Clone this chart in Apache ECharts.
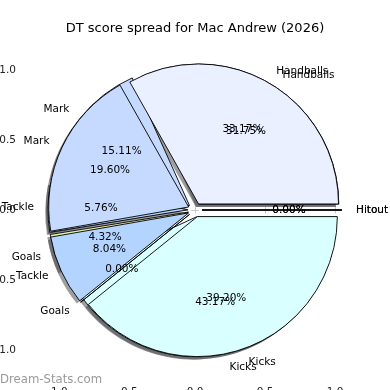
<!DOCTYPE html>
<html><head><meta charset="utf-8">
<script src="https://cdn.jsdelivr.net/npm/echarts@6/dist/echarts.min.js"></script>
<style>html,body{margin:0;padding:0;background:#fff}#c{width:390px;height:390px}</style>
</head><body><div id="c"></div>
<script>
// Data (percentages of DT score), two overlapping pies as in the reference
const categories = ['Hitout', 'Handballs', 'Mark', 'Tackle', 'Goals', 'Kicks'];
const valuesA = [0, 33.17, 19.60, 8.04, 0, 39.20];
const valuesB = [0, 31.75, 15.11, 5.76, 4.32, 43.17];
const sliceColors = ['#F0E4FF', '#EAF0FF', '#C6D9FF', '#B3D4FF', '#E4F0A8', '#D9FFFF'];
const tickValues = [-1, -0.5, 0, 0.5, 1];
const titleText = 'DT score spread for Mac Andrew (2026)';
const watermark = 'Dream-Stats.com';

const FONT = 'DejaVu Sans';
const CX = 195, CY = 210, R = 140, EXPLODE = 7;

function items(vals, colorFn) {
  return categories.map((n, i) => ({
    name: n, value: vals[i], selected: true,
    itemStyle: { color: colorFn(i) }
  }));
}
function fmtTick(v) {
  const s = Math.abs(v).toFixed(1);
  return v < 0 ? '\u2212' + s : s;
}

const basePie = {
  type: 'pie', startAngle: 0, clockwise: false, selectedMode: 'multiple',
  selectedOffset: EXPLODE, avoidLabelOverlap: false, animation: false,
  emphasis: { disabled: true }, minAngle: 0, stillShowZeroSum: true,
  labelLine: { show: false }, labelLayout: { hideOverlap: false }
};

function visualSeries(vals, z) {
  return Object.assign({}, basePie, {
    center: [CX, CY], radius: [0, R], z: z,
    data: items(vals, i => sliceColors[i]),
    itemStyle: { borderColor: '#000', borderWidth: 0.9 },
    select: { itemStyle: { borderColor: '#000', borderWidth: 0.9 } },
    label: { show: false }
  });
}
function shadowSeries(vals, z) {
  return Object.assign({}, basePie, {
    center: [CX - 2.8, CY + 2.8], radius: [0, R], z: z, silent: true,
    data: items(vals, () => 'rgba(60,62,68,0.5)'),
    itemStyle: { borderWidth: 0 },
    select: { itemStyle: { borderWidth: 0 } },
    label: { show: false }
  });
}
function pctSeries(vals, z) {
  return Object.assign({}, basePie, {
    center: [CX, CY], radius: [0.2 * R, R], z: z, silent: true,
    data: items(vals, () => 'rgba(0,0,0,0)'),
    itemStyle: { borderWidth: 0 },
    select: { itemStyle: { borderWidth: 0 } },
    label: { show: true, position: 'inside', color: '#000', fontFamily: FONT, fontSize: 10.5,
      formatter: p => p.value.toFixed(2) + '%' }
  });
}
function nameSeries(vals, z) {
  return Object.assign({}, basePie, {
    center: [CX, CY], radius: [0, R], z: z, silent: true,
    data: items(vals, () => 'rgba(0,0,0,0)'),
    itemStyle: { borderWidth: 0 },
    select: { itemStyle: { borderWidth: 0 } },
    labelLine: { show: false, length: 0.1 * R, length2: 0 },
    label: { show: true, position: 'outside', color: '#000', fontFamily: FONT, fontSize: 10.5,
      distanceToLabelLine: 0, formatter: '{b}' }
  });
}

const axisCommon = {
  type: 'value', axisLine: { show: false }, splitLine: { show: false },
  axisTick: { show: true, length: 3.5, lineStyle: { color: '#c8c8c8', width: 1 }, customValues: tickValues },
};

const chart = echarts.init(document.getElementById('c'), null, { renderer: 'canvas' });
chart.setOption({
  animation: false,
  backgroundColor: '#fff',
  title: { text: titleText, left: 'center', top: 17,
    textStyle: { fontFamily: FONT, fontSize: 13, fontWeight: 'normal', color: '#000' } },
  grid: { left: 22, right: 22, top: 36, bottom: 9, containLabel: false, outerBoundsMode: 'none' },
  xAxis: [
    Object.assign({}, axisCommon, { position: 'bottom', min: -173 / R, max: 173 / R,
      axisLabel: { show: true, customValues: tickValues, formatter: fmtTick, margin: 6,
        color: '#222', fontFamily: FONT, fontSize: 10.5 } }),
    Object.assign({}, axisCommon, { position: 'top', min: -173 / R, max: 173 / R,
      axisLabel: { show: false } })
  ],
  yAxis: [
    Object.assign({}, axisCommon, { position: 'left', min: -171 / R, max: 174 / R,
      axisLabel: { show: true, customValues: tickValues, formatter: fmtTick, margin: 6,
        color: '#222', fontFamily: FONT, fontSize: 10.5 } }),
    Object.assign({}, axisCommon, { position: 'right', min: -171 / R, max: 174 / R,
      axisLabel: { show: false } })
  ],
  graphic: [{ type: 'text', left: 0, top: 374, z: 100,
    style: { text: watermark, fill: '#9a9a9a', font: '11.7px "DejaVu Sans"' } }],
  series: [
    shadowSeries(valuesB, 1),
    shadowSeries(valuesA, 2),
    visualSeries(valuesB, 3),
    visualSeries(valuesA, 4),
    pctSeries(valuesB, 5),
    pctSeries(valuesA, 6),
    nameSeries(valuesB, 7),
    nameSeries(valuesA, 8)
  ]
});
</script>
</body></html>
